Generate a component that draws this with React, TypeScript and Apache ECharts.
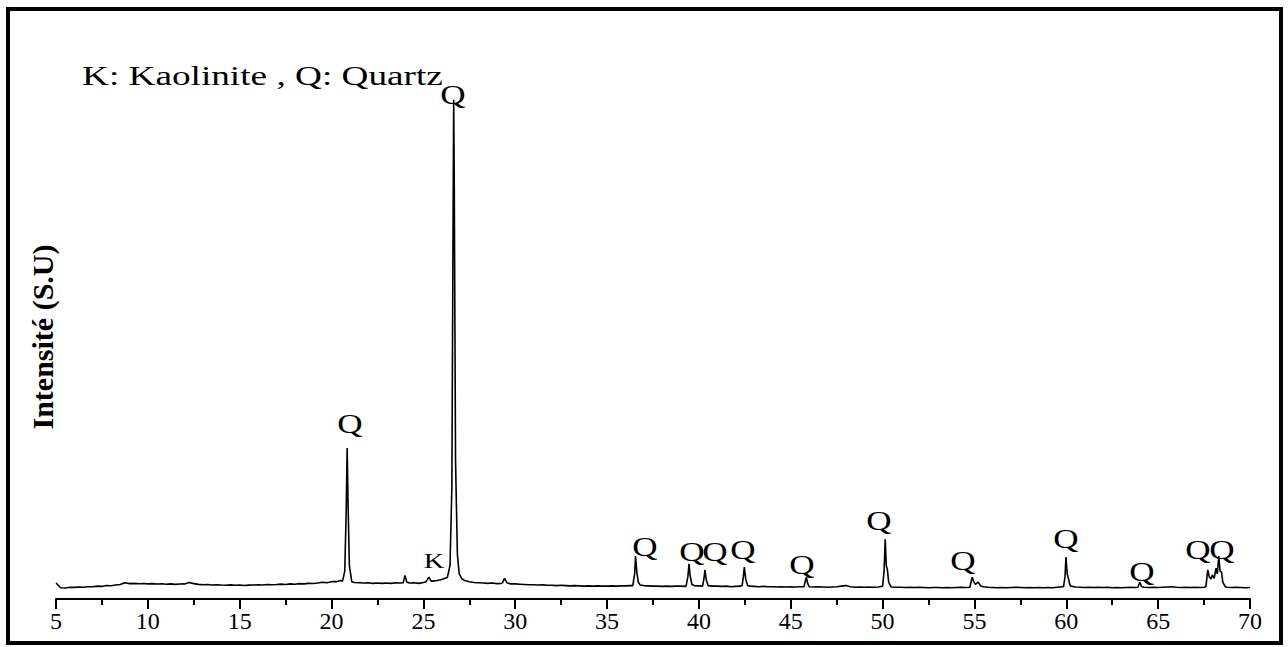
import React, { useEffect, useRef } from "react";
import * as echarts from "echarts";

// 2θ axis
const X_MIN = 5;
const X_MAX = 70;
const X_INTERVAL = 5;

// Baseline intensity, one value every 0.25° from 5° to 70°
const BASE_START = 5;
const BASE_STEP = 0.25;
const baseline: number[] = [
  2.86, 2.0, 1.98, 2.1, // 5
  2.08, 2.15, 2.1, 2.2, // 6
  2.18, 2.3, 2.25, 2.4, // 7
  2.38, 2.5, 2.6, 2.9, // 8
  2.75, 2.8, 2.72, 2.78, // 9
  2.7, 2.75, 2.68, 2.72, // 10
  2.65, 2.7, 2.62, 2.68, // 11
  2.7, 2.95, 2.75, 2.62, // 12
  2.55, 2.6, 2.5, 2.56, // 13
  2.5, 2.45, 2.52, 2.45, // 14
  2.5, 2.42, 2.48, 2.5, // 15
  2.55, 2.5, 2.6, 2.55, // 16
  2.6, 2.66, 2.6, 2.7, // 17
  2.65, 2.75, 2.7, 2.8, // 18
  2.76, 2.85, 3.0, 2.9, // 19
  3.1, 3.1, 3.3, 3.4, // 20
  3.1, 2.95, 2.9, 2.85, // 21
  2.9, 2.8, 2.86, 2.8, // 22
  2.85, 2.8, 2.9, 2.85, // 23
  3.0, 2.85, 2.9, 2.8, // 24
  2.95, 3.3, 3.2, 3.3, // 25
  3.5, 3.8, 5, 8, // 26
  3.6, 3.3, 3.1, 2.95, // 27
  2.9, 2.85, 2.8, 2.85, // 28
  2.75, 2.8, 3.0, 2.7, // 29
  2.7, 2.65, 2.6, 2.55, // 30
  2.55, 2.5, 2.52, 2.45, // 31
  2.45, 2.4, 2.45, 2.4, // 32
  2.35, 2.4, 2.35, 2.3, // 33
  2.35, 2.3, 2.35, 2.3, // 34
  2.3, 2.35, 2.3, 2.35, // 35
  2.35, 2.4, 2.5, 2.5, // 36
  2.4, 2.35, 2.3, 2.3, // 37
  2.25, 2.3, 2.25, 2.3, // 38
  2.3, 2.25, 3, 2.4, // 39
  2.35, 2.5, 2.4, 2.3, // 40
  2.3, 2.25, 2.3, 2.2, // 41
  2.25, 2.3, 3, 2.3, // 42
  2.25, 2.2, 2.25, 2.2, // 43
  2.2, 2.15, 2.2, 2.15, // 44
  2.2, 2.15, 2.2, 2.4, // 45
  2.2, 2.15, 2.2, 2.15, // 46
  2.1, 2.15, 2.2, 2.3, // 47
  2.4, 2.2, 2.1, 2.15, // 48
  2.1, 2.15, 2.1, 2.15, // 49
  2.2, 3, 2.15, 2.1, // 50
  2.1, 2.05, 2.1, 2.05, // 51
  2.1, 2.05, 2.0, 2.05, // 52
  2.05, 2.0, 2.05, 2.0, // 53
  2.05, 2.1, 2.05, 2.2, // 54
  2.6, 2.5, 2.2, 2.1, // 55
  2.05, 2.0, 2.05, 2.0, // 56
  2.05, 2.1, 2.05, 2.0, // 57
  2.05, 2.0, 2.05, 2.0, // 58
  2.05, 2.0, 2.1, 2.2, // 59
  3, 2.3, 2.15, 2.1, // 60
  2.05, 2.1, 2.05, 2.1, // 61
  2.05, 2.1, 2.0, 2.05, // 62
  2.0, 2.05, 2.1, 2.05, // 63
  3, 2.1, 2.05, 2.1, // 64
  2.05, 2.1, 2.15, 2.2, // 65
  2.1, 2.05, 2.1, 2.05, // 66
  2.1, 2.05, 2.1, 3, // 67
  3, 3, 3, 2.1, // 68
  2.05, 2.1, 2.05, 2.0, // 69
  2.05, // 70
];

// Diffraction peaks: [2θ, intensity] profiles
const peak21: [number, number][] = [[20.6, 3.2], [20.72, 5], [20.8, 16], [20.85, 27.0], [20.9, 17], [20.97, 6], [21.1, 3.1]];
const peak24: [number, number][] = [[23.9, 2.9], [24.0, 4.2], [24.1, 3.0]];
const peakK: [number, number][] = [[25.15, 3.1], [25.3, 3.9], [25.42, 3.2]];
const peak267: [number, number][] = [[26.3, 3.8], [26.45, 6], [26.55, 20], [26.62, 70], [26.65, 89.3], [26.68, 75], [26.75, 25], [26.85, 8], [26.95, 4.5], [27.1, 3.6]];
const peak294: [number, number][] = [[29.3, 2.9], [29.42, 3.7], [29.55, 2.9]];
const peak365: [number, number][] = [[36.4, 2.4], [36.5, 4.5], [36.55, 7.7], [36.62, 4.8], [36.7, 3.0], [36.8, 2.5]];
const peak395: [number, number][] = [[39.3, 2.3], [39.4, 4], [39.46, 6.3], [39.52, 4.2], [39.62, 2.6]];
const peak403: [number, number][] = [[40.2, 2.3], [40.28, 3.8], [40.33, 5.2], [40.4, 3.4], [40.5, 2.4]];
const peak425: [number, number][] = [[42.35, 2.4], [42.42, 4], [42.47, 5.7], [42.55, 3.5], [42.65, 2.4]];
const peak458: [number, number][] = [[45.72, 2.2], [45.8, 3.3], [45.85, 3.9], [45.92, 2.8], [46.0, 2.2]];
const peak502: [number, number][] = [[50.0, 2.3], [50.08, 5], [50.14, 10.7], [50.2, 6], [50.26, 5.2], [50.33, 3.0], [50.45, 2.2]];
const peak549: [number, number][] = [[54.75, 2.1], [54.88, 3.9], [54.95, 3.2], [55.05, 2.6], [55.2, 3.0], [55.35, 2.3]];
const peak600: [number, number][] = [[59.85, 2.2], [59.93, 4], [59.98, 7.5], [60.05, 4.5], [60.12, 3.6], [60.2, 2.5]];
const peak640: [number, number][] = [[63.9, 2.1], [64.0, 3.0], [64.1, 2.2]];
const peak682: [number, number][] = [[67.6, 2.2], [67.7, 5.2], [67.78, 4.0], [67.88, 3.6], [67.95, 4.3], [68.05, 3.7], [68.15, 5.5], [68.22, 4.5], [68.3, 7.7], [68.37, 5.0], [68.45, 4.8], [68.52, 3.0], [68.65, 2.2]];

const peaks = [peak21, peak24, peakK, peak267, peak294, peak365, peak395, peak403, peak425, peak458, peak502, peak549, peak600, peak640, peak682];

// Phase labels: [2θ, intensity, text]
const labelX = [21.0, 26.61, 25.58, 37.06, 39.62, 40.87, 42.4, 45.61, 49.8, 54.37, 59.98, 64.12, 67.17, 68.47];
const labelY = [31.3, 90.2, 6.8, 9.3, 8.4, 8.4, 8.8, 6.1, 14.0, 6.8, 10.7, 4.8, 8.8, 8.8];
const labelText = ["Q", "Q", "K", "Q", "Q", "Q", "Q", "Q", "Q", "Q", "Q", "Q", "Q", "Q"];

const legendText = "K: Kaolinite , Q: Quartz";
const yTitle = "Intensité (S.U)";

const SERIF = "Liberation Serif";

function buildPattern(): [number, number][] {
  const pts: [number, number][] = [];
  baseline.forEach((v, i) => {
    const x = BASE_START + i * BASE_STEP;
    const inside = peaks.some((p) => x >= p[0][0] && x <= p[p.length - 1][0]);
    if (!inside) pts.push([x, v]);
  });
  peaks.forEach((p) => p.forEach((pt) => pts.push(pt)));
  pts.sort((a, b) => a[0] - b[0]);
  return pts;
}

export default function App() {
  const ref = useRef<HTMLDivElement>(null);
  useEffect(() => {
    if (!ref.current) return;
    const chart = echarts.init(ref.current, undefined, { renderer: "svg" });
    const labelData = labelX.map((x, i) => [x, labelY[i]]);
    chart.setOption({
      animation: false,
      backgroundColor: "#ffffff",
      grid: { left: 56, right: 38, top: 40, bottom: 48 },
      xAxis: {
        type: "value",
        min: X_MIN,
        max: X_MAX,
        interval: X_INTERVAL,
        axisLine: { show: true, lineStyle: { color: "#000", width: 2 } },
        axisTick: { show: true, inside: false, length: 10, lineStyle: { color: "#000", width: 2 } },
        minorTick: { show: true, splitNumber: 2, length: 6, lineStyle: { color: "#000", width: 2 } },
        axisLabel: { color: "#000", fontSize: 24, fontFamily: SERIF, margin: 10 },
        splitLine: { show: false },
      },
      yAxis: {
        type: "value",
        min: 0,
        max: 100,
        show: false,
        splitLine: { show: false },
      },
      series: [
        {
          type: "line",
          data: buildPattern(),
          showSymbol: false,
          symbol: "none",
          lineStyle: { color: "#000", width: 1.6 },
          silent: true,
        },
        {
          type: "custom",
          data: labelData,
          encode: { x: 0, y: 1 },
          silent: true,
          renderItem: (params: any, api: any) => {
            const p = api.coord([api.value(0), api.value(1)]);
            const t = labelText[params.dataIndex];
            return {
              type: "text",
              x: p[0],
              y: p[1],
              scaleX: 1.3,
              style: {
                text: t,
                fill: "#000",
                fontFamily: SERIF,
                fontSize: t === "K" ? 22 : 27,
                align: "center",
                verticalAlign: "middle",
              },
            };
          },
        },
      ],
      graphic: [
        {
          type: "rect",
          shape: { x: 8, y: 9, width: 1273, height: 634 },
          style: { fill: "none", stroke: "#000", lineWidth: 4 },
          silent: true,
        },
        {
          type: "text",
          x: 82,
          y: 62,
          scaleX: 1.33,
          style: { text: legendText, fill: "#000", fontFamily: SERIF, fontSize: 28 },
          silent: true,
        },
        {
          type: "text",
          x: 42,
          y: 337,
          rotation: Math.PI / 2,
          style: {
            text: yTitle,
            fill: "#000",
            fontFamily: SERIF,
            fontWeight: "bold",
            fontSize: 30,
            align: "center",
            verticalAlign: "middle",
          },
          silent: true,
        },
      ],
    });
    return () => chart.dispose();
  }, []);
  return (
    <div
      ref={ref}
      style={{ position: "absolute", left: 0, top: 0, width: 1288, height: 647 }}
    />
  );
}
